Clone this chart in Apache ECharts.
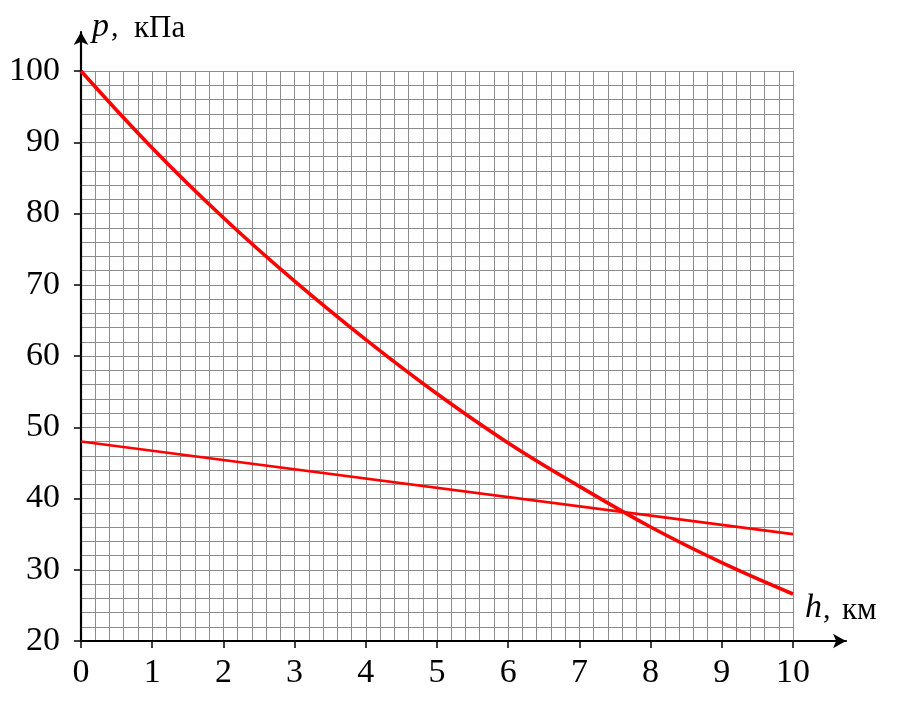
<!DOCTYPE html>
<html>
<head>
<meta charset="utf-8">
<script src="https://cdn.jsdelivr.net/npm/echarts@6/dist/echarts.min.js"></script>
<style>
html,body{margin:0;padding:0;background:#fff;}
#chart{width:917px;height:713px;}
</style>
</head>
<body>
<div id="chart"></div>
<script>
// ---- data ----
const heights = [0, 1, 2, 3, 4, 5, 6, 7, 8, 9, 10];          // h, km
const pressureCurve = [100, 89.2, 79.4, 70.5, 62.3, 54.7, 47.8, 41.7, 36.0, 31.0, 26.6]; // p, kPa
const lineHeights = [0, 10];
const linePressure = [48, 35];
const xTickValues = [0, 1, 2, 3, 4, 5, 6, 7, 8, 9, 10];
const yTickValues = [20, 30, 40, 50, 60, 70, 80, 90, 100];
const yAxisName = 'p';
const yAxisUnit = 'кПа';
const xAxisName = 'h';
const xAxisUnit = 'км';

const curveData = heights.map((h, i) => [h, pressureCurve[i]]);
const lineData = lineHeights.map((h, i) => [h, linePressure[i]]);

const FONT = '"Liberation Serif", "DejaVu Serif", serif';
const gridColor = '#8c8c8c';

function label(text, left, top, size, italic) {
  return {
    type: 'text', left: left, top: top, z: 10,
    style: {text: text, fill: '#000', font: (italic ? 'italic ' : '') + size + 'px ' + FONT}
  };
}

const chart = echarts.init(document.getElementById('chart'), null, {renderer: 'canvas'});
chart.setOption({
  animation: false,
  backgroundColor: '#ffffff',
  grid: [
    {left: 81, right: 124, top: 71, bottom: 72, containLabel: false, outerBoundsMode: 'none'},
    {left: 81, right: 71, top: 32, bottom: 72, containLabel: false, outerBoundsMode: 'none'}
  ],
  xAxis: [
    {
      type: 'value', gridIndex: 0,
      min: xTickValues[0], max: xTickValues[xTickValues.length - 1], interval: 1,
      axisLine: {show: false},
      axisTick: {show: true, length: 7, lineStyle: {color: '#000', width: 1.5}},
      axisLabel: {show: true, margin: 15, color: '#000', fontFamily: FONT, fontSize: 34},
      splitLine: {show: true, lineStyle: {color: gridColor, width: 1}},
      minorTick: {show: false, splitNumber: 5},
      minorSplitLine: {show: true, lineStyle: {color: gridColor, width: 1}}
    },
    {
      type: 'value', gridIndex: 1, min: 0, max: 1,
      axisLine: {show: true, symbol: ['none', 'arrow'], symbolSize: [11, 13], lineStyle: {color: '#000', width: 2.2}},
      axisTick: {show: false}, axisLabel: {show: false}, splitLine: {show: false}
    }
  ],
  yAxis: [
    {
      type: 'value', gridIndex: 0,
      min: yTickValues[0], max: yTickValues[yTickValues.length - 1], interval: 10,
      axisLine: {show: false},
      axisTick: {show: true, length: 7, lineStyle: {color: '#000', width: 1.5}},
      axisLabel: {show: true, margin: 21, color: '#000', fontFamily: FONT, fontSize: 34},
      splitLine: {show: true, lineStyle: {color: gridColor, width: 1}},
      minorTick: {show: false, splitNumber: 5},
      minorSplitLine: {show: true, lineStyle: {color: gridColor, width: 1}}
    },
    {
      type: 'value', gridIndex: 1, min: 0, max: 1,
      axisLine: {show: true, symbol: ['none', 'arrow'], symbolSize: [11, 13], lineStyle: {color: '#000', width: 2.2}},
      axisTick: {show: false}, axisLabel: {show: false}, splitLine: {show: false}
    }
  ],
  graphic: [
    label(yAxisName, 92, 10, 34, true),
    label(',', 111, 13, 30, false),
    label(yAxisUnit, 134, 13, 31, false),
    label(xAxisName, 805, 591, 34, true),
    label(',', 823, 595, 30, false),
    label(xAxisUnit, 842, 595, 31, false)
  ],
  series: [
    {
      type: 'line', xAxisIndex: 0, yAxisIndex: 0, data: curveData,
      smooth: 0.4, showSymbol: false, z: 5,
      lineStyle: {color: '#ff0000', width: 3.6}
    },
    {
      type: 'line', xAxisIndex: 0, yAxisIndex: 0, data: lineData,
      showSymbol: false, z: 4,
      lineStyle: {color: '#ff0000', width: 2.6}
    }
  ]
});
</script>
</body>
</html>
